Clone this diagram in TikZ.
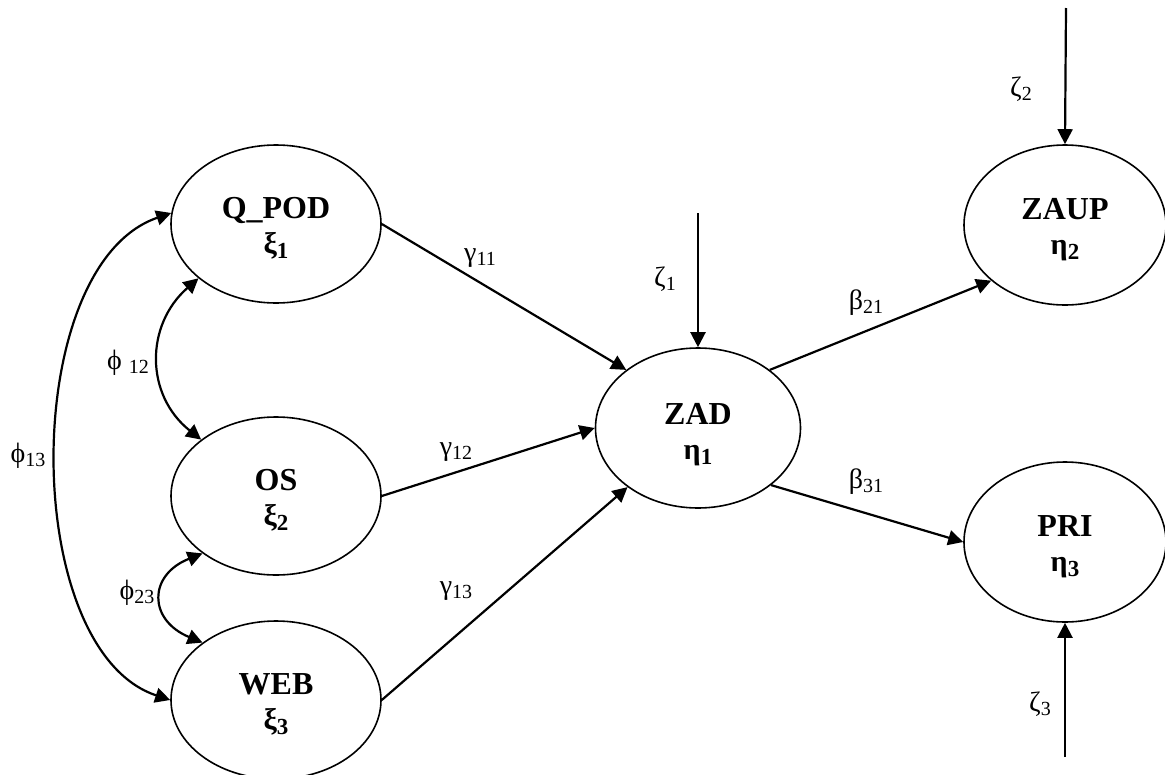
\documentclass[tikz,border=0pt]{standalone}
\usepackage{fontspec}
\setmainfont{Liberation Serif}
\usetikzlibrary{shapes.geometric,arrows.meta}

% Greek letter followed by a lowered index
\newcommand\idx[2]{#1\raisebox{-4pt}{\fontsize{20}{20}\selectfont #2}}
\newcommand\bidx[2]{#1\raisebox{-5pt}{\fontsize{23}{23}\selectfont\bfseries #2}}

\tikzset{
  latent/.style={ellipse, draw, line width=1.6pt, inner sep=0pt,
                 minimum width=210pt, minimum height=158pt},
  vname/.style={anchor=base, inner sep=0pt, font=\fontsize{32}{32}\selectfont\bfseries},
  vsym/.style={anchor=base, inner sep=0pt, font=\fontsize{30}{30}\selectfont\bfseries},
  coef/.style={inner sep=0pt, font=\fontsize{28}{28}\selectfont},
  path/.style={line width=2.2pt, -{Triangle[length=15pt,width=15pt]}},
  covar/.style={line width=2.2pt, {Triangle[length=15pt,width=15pt]}-{Triangle[length=15pt,width=15pt]}}
}

\begin{document}
\begin{tikzpicture}[x=1pt, y=-1pt]
\useasboundingbox (0,0) rectangle (1165,774);
\clip (0,0) rectangle (1165,774);

% exogenous latent variables
\node[latent] (qpod) at (276,224) {};
\node[latent] (os)   at (276,496) {};
\node[latent] (web)  at (276,700) {};
% endogenous latent variables
\node[latent, minimum width=205pt, minimum height=160pt] (zad)  at (698,428) {};
\node[latent, minimum width=202pt, minimum height=160pt] (zaup) at (1065,225) {};
\node[latent, minimum width=202pt, minimum height=160pt] (pri)  at (1065,542) {};

% names and symbols inside the ellipses
\node[vname] (qpodn) at (276,218) {Q\_POD};
\node[vsym]  (qpods) at (276,253) {\bidx{ξ}{1}};
\node[vname] (osn)   at (276,490) {OS};
\node[vsym]  (oss)   at (276,525) {\bidx{ξ}{2}};
\node[vname] (webn)  at (276,694) {WEB};
\node[vsym]  (webs)  at (276,729) {\bidx{ξ}{3}};
\node[vname] (zadn)  at (698,424) {ZAD};
\node[vsym]  (zads)  at (698,459) {\bidx{η}{1}};
\node[vname] (zaupn) at (1065,219) {ZAUP};
\node[vsym]  (zaups) at (1065,254) {\bidx{η}{2}};
\node[vname] (prin)  at (1065,536) {PRI};
\node[vsym]  (pris)  at (1065,571) {\bidx{η}{3}};

% structural paths
\draw[path] (qpod.east) -- (zad.141);
\draw[path] (os.east)   -- (zad.west);
\draw[path] (web.east)  -- (zad.220);
\draw[path] (zad.39)    -- (zaup.217);
\draw[path] (zad.322)   -- (pri.west);

% disturbances
\coordinate (z1) at (698,213);
\coordinate (z2) at (1066,8);
\coordinate (z3) at (1065,757);
\draw[path] (z1) -- (zad.north);
\draw[path] (z2) -- (zaup.north);
\draw[path] (z3) -- (pri.south);

% covariances among the exogenous variables
\draw[covar] (qpod.174) .. controls (19,265) and (19,650) .. (web.180);
\draw[covar] (qpod.215) .. controls (145,325) and (145,395) .. (os.143);
\draw[covar] (os.218) .. controls (148,575) and (148,620) .. (web.142);

% coefficient labels
\node[coef] (g11) at (480,258) {\idx{γ}{11}};
\node[coef] (g12) at (456,452) {\idx{γ}{12}};
\node[coef] (g13) at (456,591) {\idx{γ}{13}};
\node[coef] (b21) at (866,303) {\idx{β}{21}};
\node[coef] (b31) at (866,482) {\idx{β}{31}};
\node[coef] (f12) at (128,363) {\idx{ϕ }{12}};
\node[coef] (f13) at (28,456)  {\idx{ϕ}{13}};
\node[coef] (f23) at (137,593) {\idx{ϕ}{23}};
\node[coef] (s1)  at (665,279) {\idx{ζ}{1}};
\node[coef] (s2)  at (1021,89) {\idx{ζ}{2}};
\node[coef] (s3)  at (1040,704) {\idx{ζ}{3}};
\end{tikzpicture}
\end{document}
